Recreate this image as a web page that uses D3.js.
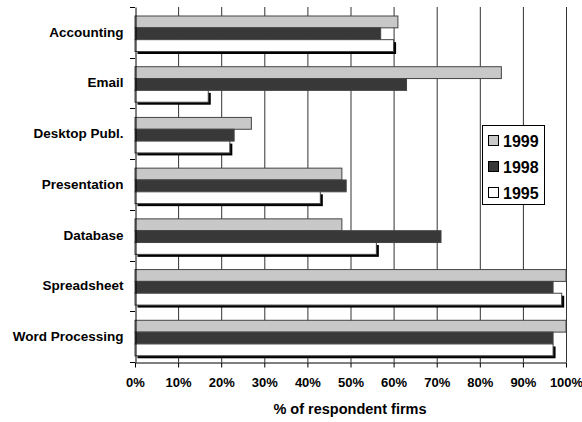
<!DOCTYPE html>
<html>
<head>
<meta charset="utf-8">
<script src="https://cdn.jsdelivr.net/npm/d3@7"></script>
<style>
  html, body { margin: 0; padding: 0; background: #fff; }
  svg { display: block; font-family: Arial, "Liberation Sans", sans-serif; }
</style>
</head>
<body>
<svg id="chart" width="582" height="422"></svg>
<script>
const categories = ["Accounting", "Email", "Desktop Publ.", "Presentation", "Database", "Spreadsheet", "Word Processing"];
const seriesNames = ["1999", "1998", "1995"];
const values1999 = [61, 85, 27, 48, 48, 100, 100];
const values1998 = [57, 63, 23, 49, 71, 97, 97];
const values1995 = [60, 17, 22, 43, 56, 99, 97];
const xTicks = [0, 10, 20, 30, 40, 50, 60, 70, 80, 90, 100];
const xTitle = "% of respondent firms";

const seriesValues = [values1999, values1998, values1995];
const colors = ["#c8c8c8", "#383838", "#ffffff"];
const FONT = "Arial, 'Liberation Sans', sans-serif";

const svg = d3.select("#chart");
const pLeft = 135, pRight = 566, pTop = 7, pBottom = 362;

const x = d3.scaleLinear().domain([0, 100]).range([pLeft, pRight]);
const y = d3.scaleBand().domain(categories).range([pTop, pBottom]).paddingInner(0).paddingOuter(0);
const inner = d3.scaleBand().domain(seriesNames).range([9, 44.5]).padding(0);

// gridlines
svg.append("g").selectAll("line").data(xTicks.slice(1)).join("line")
  .attr("x1", d => x(d) + 0.5).attr("x2", d => x(d) + 0.5)
  .attr("y1", pTop).attr("y2", pBottom)
  .attr("stroke", "#333").attr("stroke-width", 1);

// bars
const groups = svg.append("g").selectAll("g").data(categories).join("g")
  .attr("transform", d => `translate(0,${y(d)})`);

seriesNames.forEach((s, si) => {
  if (s === "1995") {
    groups.append("rect")
      .attr("x", x(0) + 2.5)
      .attr("y", inner(s) + 2.5)
      .attr("width", (d, i) => x(seriesValues[si][i]) - x(0))
      .attr("height", inner.bandwidth())
      .attr("fill", "#000");
  }
  groups.append("rect")
    .attr("x", x(0))
    .attr("y", inner(s))
    .attr("width", (d, i) => x(seriesValues[si][i]) - x(0))
    .attr("height", inner.bandwidth())
    .attr("fill", colors[si])
    .attr("stroke", "#444").attr("stroke-width", 1);
});

// y axis
const yAxis = svg.append("g").attr("transform", `translate(${pLeft + 0.5},0)`)
  .call(d3.axisLeft(y).tickSize(0).tickPadding(12));
yAxis.select(".domain").attr("stroke", "#000");
yAxis.selectAll("text").attr("font-size", 13.5).attr("font-weight", "bold").attr("fill", "#000")
  .attr("font-family", FONT);
// category boundary ticks
const bounds = categories.map(c => y(c)).concat([pBottom]);
svg.append("g").selectAll("line").data(bounds).join("line")
  .attr("x1", pLeft - 5).attr("x2", pLeft)
  .attr("y1", d => Math.round(d) + 0.5).attr("y2", d => Math.round(d) + 0.5)
  .attr("stroke", "#000");

// x axis
const xAxis = svg.append("g").attr("transform", `translate(0,${pBottom + 0.5})`)
  .call(d3.axisBottom(x).tickValues(xTicks).tickFormat(d => d + "%").tickSize(5).tickSizeOuter(0).tickPadding(10));
xAxis.select(".domain").attr("stroke", "#000");
xAxis.selectAll(".tick line").attr("stroke", "#000");
xAxis.selectAll("text").attr("font-size", 13).attr("font-weight", "bold").attr("fill", "#000")
  .attr("font-family", FONT);

svg.append("text").attr("x", 350).attr("y", 413.5)
  .attr("text-anchor", "middle").attr("font-size", 14.5).attr("font-weight", "bold")
  .attr("font-family", FONT)
  .text(xTitle);

// legend
const lg = svg.append("g").attr("transform", "translate(482.5,125.5)");
lg.append("rect").attr("width", 62).attr("height", 79).attr("fill", "#fff").attr("stroke", "#000");
seriesNames.forEach((s, i) => {
  const yy = 10 + i * 26;
  lg.append("rect").attr("x", 6).attr("y", yy).attr("width", 10).attr("height", 10)
    .attr("fill", colors[i]).attr("stroke", "#000");
  lg.append("text").attr("x", 20.5).attr("y", yy + 11).attr("font-size", 16).attr("font-weight", "bold")
    .attr("font-family", FONT)
    .text(s);
});
</script>
</body>
</html>
